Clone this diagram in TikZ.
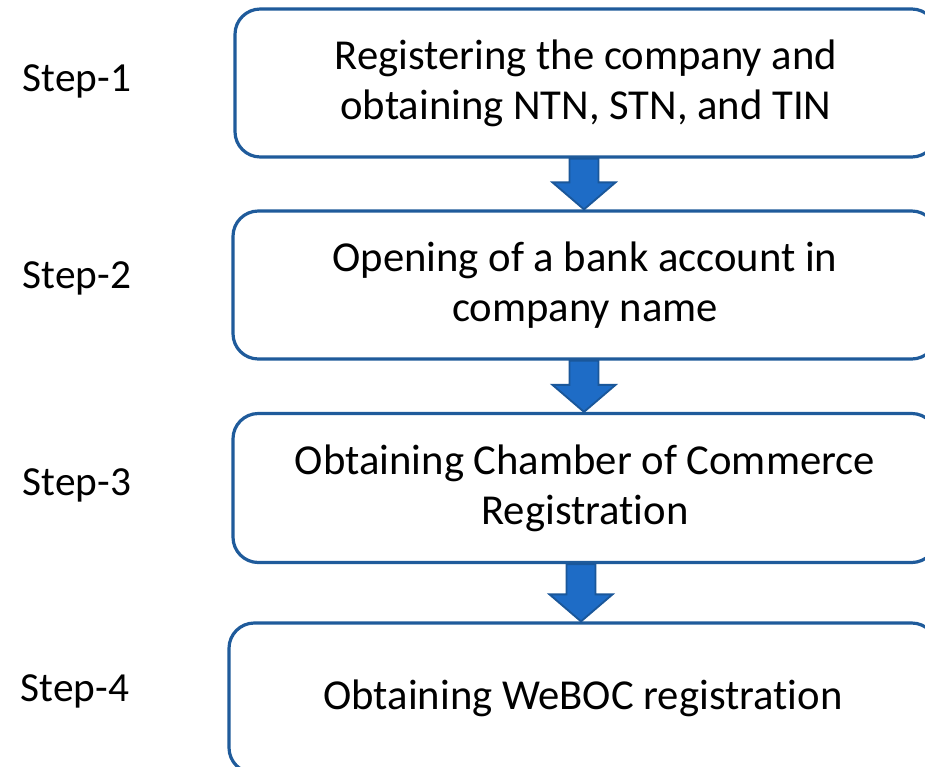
\documentclass[tikz,border=0pt]{standalone}
\usepackage{fontspec}
\setmainfont[Ligatures=NoCommon]{Carlito}
\usetikzlibrary{calc}
\definecolor{boxblue}{HTML}{1F5B9B}
\definecolor{arrfill}{HTML}{1E6CC6}
\definecolor{arrline}{HTML}{1A579A}
\tikzset{
  stepbox/.style={draw=boxblue, line width=2.4pt, rounded corners=19pt, fill=white,
    align=center, font=\fontsize{32}{37.5}\selectfont, inner sep=0pt},
  steplabel/.style={font=\fontsize{31}{33}\selectfont, inner sep=0pt},
  downarr/.style={fill=arrfill, draw=arrline, line width=1.4pt, line join=miter}
}
\newcommand\dnarrow[3]{%
  \draw[downarr] ($(#1.south -| #3)+(-14.5,0)$) -- ($(#1.south -| #3)+(14.5,0)$)
    -- ($(#2.north -| #3)+(14.5,-27)$) -- ($(#2.north -| #3)+(31.5,-27)$)
    -- (#2.north -| #3) -- ($(#2.north -| #3)+(-31.5,-27)$)
    -- ($(#2.north -| #3)+(-14.5,-27)$) -- cycle;}
\begin{document}
\begin{tikzpicture}[x=0.75pt, y=-0.75pt]
\useasboundingbox (0,0) rectangle (925,767);
\clip (0,0) rectangle (925,767);
\fill[white] (0,0) rectangle (925,767);
\node[stepbox, minimum width=702*0.75pt, minimum height=148*0.75pt] (b1) at (586,83)
  {Registering the company and\\obtaining NTN, STN, and TIN};
\node[stepbox, minimum width=704*0.75pt, minimum height=148*0.75pt] (b2) at (585,285)
  {Opening of a bank account in\\company name};
\node[stepbox, minimum width=704*0.75pt, minimum height=149*0.75pt] (b3) at (585,488)
  {Obtaining Chamber of Commerce\\Registration};
\node[stepbox, minimum width=708*0.75pt, minimum height=150*0.75pt] (b4) at (583,698)
  {Obtaining WeBOC registration};
\coordinate (x1) at (584,0);
\coordinate (x2) at (584,0);
\coordinate (x3) at (581,0);
\dnarrow{b1}{b2}{x1}
\dnarrow{b2}{b3}{x2}
\dnarrow{b3}{b4}{x3}
\node[steplabel] (s1) at (77,81) {Step-1};
\node[steplabel] (s2) at (77,278) {Step-2};
\node[steplabel] (s3) at (77,485) {Step-3};
\node[steplabel] (s4) at (75,691) {Step-4};
\end{tikzpicture}
\end{document}
